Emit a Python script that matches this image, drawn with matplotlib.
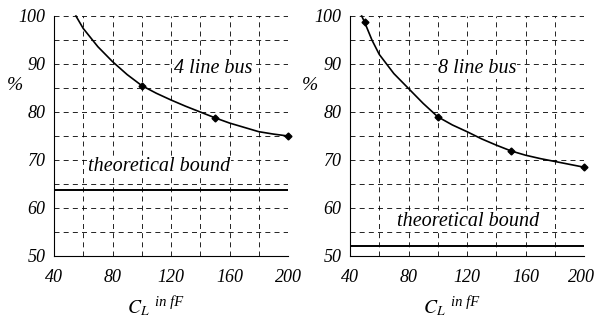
import numpy as np
import matplotlib.pyplot as plt
from matplotlib.transforms import ScaledTranslation

plt.rcParams['font.family'] = ['Liberation Serif', 'DejaVu Serif']
plt.rcParams['mathtext.fontset'] = 'stix'

# measured points
x_pts = [100, 150, 200]
y4_pts = [85.5, 78.7, 75.0]
x8_pts = [50, 100, 150, 200]
y8_pts = [98.7, 79.0, 71.9, 68.5]

# fitted curves
x4_curve = [55, 60, 70, 80, 90, 100, 110, 120, 130, 140, 150, 160, 170, 180, 190, 200]
y4_curve = [100.0, 97.4, 93.6, 90.5, 87.8, 85.5, 83.9, 82.5, 81.2, 80.0, 78.8, 77.7, 76.8, 75.9, 75.4, 75.0]
x8_curve = [48, 50, 55, 60, 70, 80, 90, 100, 110, 120, 130, 140, 150, 160, 170, 180, 190, 200]
y8_curve = [100.0, 98.7, 95.0, 92.0, 88.0, 84.9, 81.8, 79.0, 77.3, 75.9, 74.4, 73.1, 71.9, 71.0, 70.3, 69.7, 69.1, 68.5]

bound4 = 63.7
bound8 = 52.1

xticks = [40, 80, 120, 160, 200]
yticks = [50, 60, 70, 80, 90, 100]

fig = plt.figure(figsize=(5.96, 3.26), dpi=100)
ax1 = fig.add_axes([54/596, 1 - 256/326, 234/596, 240/326])
ax2 = fig.add_axes([350/596, 1 - 256/326, 234/596, 240/326])

panels = [
    (ax1, x4_curve, y4_curve, x_pts, y4_pts, bound4, '4 line bus', (149, 89), (112, 68.6), 150, -0.167),
    (ax2, x8_curve, y8_curve, x8_pts, y8_pts, bound8, '8 line bus', (127, 89), (121, 57.2), 446, -0.173),
]

for ax, xc, yc, xp, yp, b, title, tpos, bpos, xl, ylx in panels:
    ax.set_xlim(40, 200)
    ax.set_ylim(50, 100)
    ax.set_xticks(xticks)
    ax.set_yticks(yticks)
    ax.set_xticks(np.arange(40, 201, 20), minor=True)
    ax.set_yticks(np.arange(50, 101, 5), minor=True)
    ax.grid(which='both', color='black', linewidth=0.6, linestyle=(0, (6, 5)))
    ax.tick_params(which='both', length=0, labelsize=13)
    ax.tick_params(axis='y', pad=6)
    ax.tick_params(axis='x', pad=9)
    for lab in ax.get_xticklabels() + ax.get_yticklabels():
        lab.set_style('italic')
    ax.spines['top'].set_visible(False)
    ax.spines['right'].set_visible(False)
    ax.spines['left'].set_linewidth(0.8)
    ax.spines['bottom'].set_linewidth(0.8)

    ax.plot(xc, yc, color='black', linewidth=1.2, clip_on=False)
    ax.plot(xp, yp, 'D', color='black', markersize=3.5, clip_on=False)
    ax.axhline(b, color='black', linewidth=1.4)

    box = dict(facecolor='white', edgecolor='none', pad=0.5)
    ax.text(tpos[0], tpos[1], title, ha='center', va='center', fontsize=14.5,
            style='italic', bbox=box)
    ax.text(bpos[0], bpos[1], 'theoretical bound', ha='center', va='center',
            fontsize=14.5, style='italic', bbox=box)
    ax.set_ylabel('%', rotation=0, fontsize=14, style='italic', va='center', ha='center')
    ax.yaxis.set_label_coords(ylx, 0.71)

    fig.text(xl / 596, 1 - 308 / 326, r'$C_L$', fontsize=14, ha='right', va='center')
    fig.text(xl / 596 + 0.008, 1 - 302 / 326, 'in fF', fontsize=10.5, ha='left',
             va='center', style='italic')

# nudge the last x tick label so it stays inside the picture
last = ax2.xaxis.get_major_ticks()[-1].label1
last.set_transform(last.get_transform() + ScaledTranslation(-2.5 / 100, 0, fig.dpi_scale_trans))
fig.savefig('out.png', dpi=100)
